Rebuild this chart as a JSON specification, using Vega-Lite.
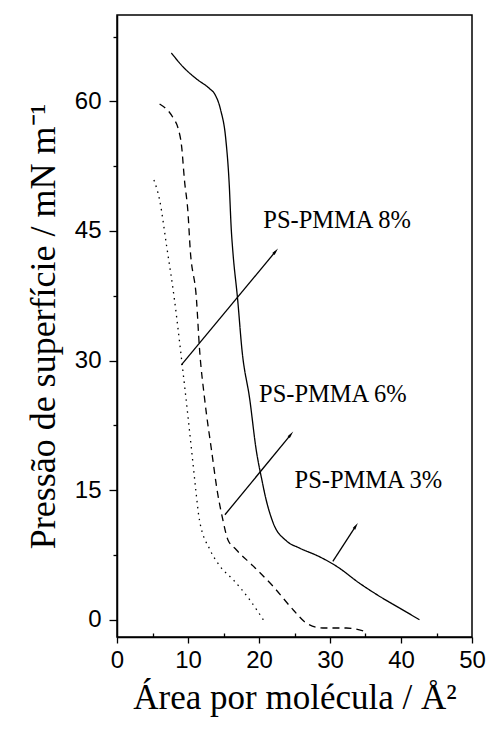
{
  "$schema": "https://vega.github.io/schema/vega-lite/v6.json",
  "autosize": {"type": "none"},
  "padding": {"left": 117, "top": 15, "right": 17, "bottom": 94},
  "width": 355,
  "height": 622,
  "background": "white",
  "config": {
    "view": {"stroke": "black", "strokeWidth": 1.5},
    "axis": {
      "grid": false,
      "domainColor": "black",
      "domainWidth": 1.5,
      "tickColor": "black",
      "tickWidth": 1.3,
      "labelFont": "Liberation Sans",
      "labelFontSize": 24,
      "labelColor": "black",
      "titleFont": "Liberation Serif",
      "titleFontWeight": "normal",
      "titleColor": "black"
    }
  },
  "datasets": {
    "curves": [
      {"serie": "8%", "area": 7.66, "pressao": 65.6},
      {"serie": "8%", "area": 9.3, "pressao": 64.0},
      {"serie": "8%", "area": 11.2, "pressao": 62.6},
      {"serie": "8%", "area": 13.0, "pressao": 61.5},
      {"serie": "8%", "area": 13.8, "pressao": 60.8},
      {"serie": "8%", "area": 14.6, "pressao": 59.0},
      {"serie": "8%", "area": 15.3, "pressao": 55.8},
      {"serie": "8%", "area": 15.8, "pressao": 50.5},
      {"serie": "8%", "area": 16.1, "pressao": 45.1},
      {"serie": "8%", "area": 16.3, "pressao": 42.8},
      {"serie": "8%", "area": 17.0, "pressao": 37.0},
      {"serie": "8%", "area": 17.6, "pressao": 31.25},
      {"serie": "8%", "area": 18.7, "pressao": 25.5},
      {"serie": "8%", "area": 19.6, "pressao": 19.7},
      {"serie": "8%", "area": 20.4, "pressao": 16.2},
      {"serie": "8%", "area": 21.0, "pressao": 13.9},
      {"serie": "8%", "area": 22.0, "pressao": 11.2},
      {"serie": "8%", "area": 23.9, "pressao": 9.1},
      {"serie": "8%", "area": 25.7, "pressao": 8.3},
      {"serie": "8%", "area": 28.5, "pressao": 7.3},
      {"serie": "8%", "area": 30.9, "pressao": 6.2},
      {"serie": "8%", "area": 34.2, "pressao": 4.2},
      {"serie": "8%", "area": 37.0, "pressao": 2.7},
      {"serie": "8%", "area": 39.8, "pressao": 1.35},
      {"serie": "8%", "area": 42.6, "pressao": 0},
      {"serie": "6%", "area": 6.0, "pressao": 59.7},
      {"serie": "6%", "area": 7.9, "pressao": 58.1},
      {"serie": "6%", "area": 8.6, "pressao": 56.9},
      {"serie": "6%", "area": 9.1, "pressao": 54.8},
      {"serie": "6%", "area": 9.5, "pressao": 50.9},
      {"serie": "6%", "area": 10.0, "pressao": 47.1},
      {"serie": "6%", "area": 10.3, "pressao": 43.0},
      {"serie": "6%", "area": 11.2, "pressao": 37.0},
      {"serie": "6%", "area": 11.6, "pressao": 31.6},
      {"serie": "6%", "area": 12.35, "pressao": 25.5},
      {"serie": "6%", "area": 13.3, "pressao": 19.7},
      {"serie": "6%", "area": 14.2, "pressao": 14.5},
      {"serie": "6%", "area": 14.9, "pressao": 11.6},
      {"serie": "6%", "area": 15.6, "pressao": 9.3},
      {"serie": "6%", "area": 16.8, "pressao": 8.1},
      {"serie": "6%", "area": 19.2, "pressao": 6.2},
      {"serie": "6%", "area": 22.0, "pressao": 3.85},
      {"serie": "6%", "area": 24.8, "pressao": 1.16},
      {"serie": "6%", "area": 26.7, "pressao": -0.4},
      {"serie": "6%", "area": 29.0, "pressao": -0.96},
      {"serie": "6%", "area": 32.3, "pressao": -0.96},
      {"serie": "6%", "area": 34.9, "pressao": -1.35},
      {"serie": "3%", "area": 5.2, "pressao": 50.9},
      {"serie": "3%", "area": 6.0, "pressao": 48.6},
      {"serie": "3%", "area": 7.0, "pressao": 43.2},
      {"serie": "3%", "area": 8.1, "pressao": 37.0},
      {"serie": "3%", "area": 9.1, "pressao": 30.1},
      {"serie": "3%", "area": 10.0, "pressao": 23.5},
      {"serie": "3%", "area": 10.7, "pressao": 18.1},
      {"serie": "3%", "area": 11.1, "pressao": 15.0},
      {"serie": "3%", "area": 11.6, "pressao": 11.6},
      {"serie": "3%", "area": 13.1, "pressao": 8.1},
      {"serie": "3%", "area": 14.5, "pressao": 6.2},
      {"serie": "3%", "area": 16.4, "pressao": 4.6},
      {"serie": "3%", "area": 18.7, "pressao": 2.3},
      {"serie": "3%", "area": 20.6, "pressao": 0}
    ],
    "arrows": [
      {"seta": "a8", "area": 9.07, "pressao": 29.5},
      {"seta": "a8", "area": 22.3, "pressao": 42.6},
      {"seta": "a6", "area": 15.2, "pressao": 12.15},
      {"seta": "a6", "area": 24.45, "pressao": 21.4},
      {"seta": "a3", "area": 30.4, "pressao": 6.75},
      {"seta": "a3", "area": 33.6, "pressao": 10.8}
    ],
    "tips": [
      {"seta": "a8", "area": 22.3, "pressao": 42.6},
      {"seta": "a6", "area": 24.45, "pressao": 21.4},
      {"seta": "a3", "area": 33.6, "pressao": 10.8}
    ],
    "labels": [
      {"texto": "PS-PMMA 8%", "area": 20.6, "pressao": 46.1},
      {"texto": "PS-PMMA 6%", "area": 20.0, "pressao": 26.0},
      {"texto": "PS-PMMA 3%", "area": 25.0, "pressao": 16.1}
    ]
  },
  "encoding": {
    "x": {
      "field": "area", "type": "quantitative",
      "scale": {"domain": [0, 50], "nice": false, "zero": false},
      "axis": {
        "title": "Área por molécula / Å²",
        "titleFontSize": 35,
        "values": [0, 5, 10, 15, 20, 25, 30, 35, 40, 45, 50],
        "labelExpr": "datum.value % 10 === 0 ? datum.label : ''",
        "tickSize": {"condition": {"test": "datum.value % 10 === 0", "value": 6}, "value": -4},
        "labelPadding": 5,
        "labelFlush": false,
        "titlePadding": 8
      }
    },
    "y": {
      "field": "pressao", "type": "quantitative",
      "scale": {"domain": [-2, 70], "nice": false, "zero": false},
      "axis": {
        "title": "Pressão de superfície / mN m⁻¹",
        "titleFontSize": 36,
        "values": [0, 7.5, 15, 22.5, 30, 37.5, 45, 52.5, 60, 67.5],
        "labelExpr": "datum.value % 15 === 0 ? datum.label : ''",
        "tickSize": {"condition": {"test": "datum.value % 15 === 0", "value": 8}, "value": 4},
        "labelPadding": 8,
        "labelFlush": false,
        "titlePadding": 12
      }
    }
  },
  "layer": [
    {
      "data": {"name": "curves"},
      "mark": {"type": "line", "color": "black", "strokeWidth": 1.3, "interpolate": "monotone"},
      "encoding": {
        "detail": {"field": "serie", "type": "nominal"},
        "strokeDash": {
          "field": "serie", "type": "nominal",
          "scale": {"domain": ["8%", "6%", "3%"], "range": [[1, 0], [7, 5], [1.5, 4.5]]},
          "legend": null
        }
      }
    },
    {
      "data": {"name": "arrows"},
      "mark": {"type": "line", "color": "black", "strokeWidth": 1.3},
      "encoding": {"detail": {"field": "seta", "type": "nominal"}}
    },
    {
      "data": {"name": "tips"},
      "transform": [{"filter": "datum.seta === 'a8'"}],
      "mark": {"type": "point", "shape": "M0,-1L0.35,0.7L-0.35,0.7Z", "filled": true, "color": "black", "size": 70, "angle": 39.6, "opacity": 1}
    },
    {
      "data": {"name": "tips"},
      "transform": [{"filter": "datum.seta === 'a6'"}],
      "mark": {"type": "point", "shape": "M0,-1L0.35,0.7L-0.35,0.7Z", "filled": true, "color": "black", "size": 70, "angle": 39.3, "opacity": 1}
    },
    {
      "data": {"name": "tips"},
      "transform": [{"filter": "datum.seta === 'a3'"}],
      "mark": {"type": "point", "shape": "M0,-1L0.35,0.7L-0.35,0.7Z", "filled": true, "color": "black", "size": 70, "angle": 32.5, "opacity": 1}
    },
    {
      "data": {"name": "labels"},
      "mark": {"type": "text", "align": "left", "baseline": "middle", "font": "Liberation Serif", "fontSize": 24.5, "color": "black"},
      "encoding": {"text": {"field": "texto", "type": "nominal"}}
    }
  ]
}
